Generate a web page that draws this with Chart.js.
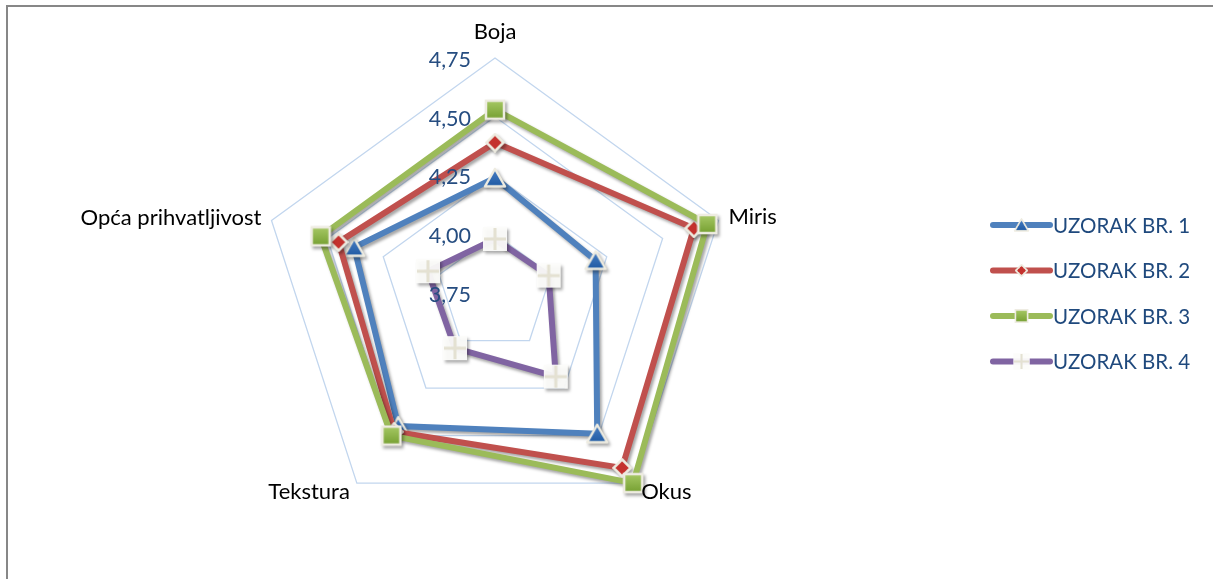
<!DOCTYPE html>
<html><head><meta charset="utf-8">
<script src="https://cdn.jsdelivr.net/npm/chart.js@4/dist/chart.umd.min.js"></script>
<style>
html,body{margin:0;padding:0;background:#fff;overflow:hidden;width:1213px;height:579px;}
#frame{position:absolute;left:6px;top:5px;width:1300px;height:700px;border-left:2px solid #878787;border-top:2px solid #878787;}
#c{position:absolute;left:0;top:0;}
</style></head><body>
<div id="frame"></div>
<canvas id="c" width="1213" height="579"></canvas>
<script>
// ---- data ----
const categories = ['Boja', 'Miris', 'Okus', 'Tekstura', 'Opća prihvatljivost'];
const seriesNames = ['UZORAK BR. 1', 'UZORAK BR. 2', 'UZORAK BR. 3', 'UZORAK BR. 4'];
const uzorak1 = [4.24, 4.20, 4.49, 4.45, 4.38];
const uzorak2 = [4.39, 4.64, 4.67, 4.48, 4.45];
const uzorak3 = [4.53, 4.70, 4.75, 4.50, 4.53];
const uzorak4 = [3.98, 3.99, 4.19, 4.04, 4.05];
const tickValues = [3.75, 4.00, 4.25, 4.50, 4.75];
const tickLabels = ['3,75', '4,00', '4,25', '4,50', '4,75'];

// ---- styles ----
const lineColors = ['#4F81BD', '#C0504D', '#9BBB59', '#8064A2'];
const FONT = 'Lato, "Liberation Sans", Arial, sans-serif';
const CREAM = '#EEECE1';

function mk(w, h, fn) {
  const cv = document.createElement('canvas');
  cv.width = w; cv.height = h;
  fn(cv.getContext('2d'), w, h);
  return cv;
}
const triMarker = mk(24, 22, (c) => {
  const g = c.createLinearGradient(0, 2, 0, 20);
  g.addColorStop(0, '#4A7FC4'); g.addColorStop(1, '#1F5AA3');
  c.beginPath(); c.moveTo(12, 2); c.lineTo(22, 19.5); c.lineTo(2, 19.5); c.closePath();
  c.fillStyle = g; c.fill();
  c.lineWidth = 2.5; c.lineJoin = 'round'; c.strokeStyle = CREAM; c.stroke();
});
const diaMarker = mk(20, 20, (c) => {
  c.beginPath(); c.moveTo(10, 1.5); c.lineTo(18.5, 10); c.lineTo(10, 18.5); c.lineTo(1.5, 10); c.closePath();
  c.fillStyle = '#C4312D'; c.fill();
  c.lineWidth = 2.5; c.strokeStyle = CREAM; c.stroke();
});
const sqMarker = mk(22, 22, (c) => {
  const g = c.createLinearGradient(0, 2, 0, 20);
  g.addColorStop(0, '#A6C864'); g.addColorStop(1, '#76A032');
  c.fillStyle = g; c.fillRect(2, 2, 18, 18);
  c.lineWidth = 2.5; c.strokeStyle = CREAM; c.strokeRect(2, 2, 18, 18);
});
const crossMarker = mk(26, 26, (c) => {
  c.fillStyle = 'rgba(252,252,250,0.95)'; c.fillRect(1, 1, 24, 24);
  c.strokeStyle = '#E4E1D2'; c.lineWidth = 3;
  c.beginPath(); c.moveTo(13, 2); c.lineTo(13, 24); c.moveTo(2, 13); c.lineTo(24, 13); c.stroke();
});
const markers = [triMarker, diaMarker, sqMarker, crossMarker];

const seriesData = [uzorak1, uzorak2, uzorak3, uzorak4];

const shadowPlugin = {
  id: 'shadow',
  beforeDatasetsDraw(chart) {
    const c = chart.ctx; c.save();
    c.shadowColor = 'rgba(0,0,0,0.35)'; c.shadowBlur = 3; c.shadowOffsetX = 2; c.shadowOffsetY = 2.5;
  },
  afterDatasetsDraw(chart) { chart.ctx.restore(); }
};

const labelOffsets = [
  {dx: 0, dy: -26, align: 'center'},
  {dx: 10, dy: -3, align: 'left'},
  {dx: 8, dy: 9, align: 'left'},
  {dx: -7, dy: 9, align: 'right'},
  {dx: -10, dy: -2, align: 'right'}
];

const labelsPlugin = {
  id: 'customLabels',
  afterDraw(chart) {
    const s = chart.scales.r; const c = chart.ctx;
    c.save();
    c.textBaseline = 'middle';
    // point labels
    c.font = '22px ' + FONT;
    c.fillStyle = '#000000';
    categories.forEach((lab, i) => {
      const p = s.getPointPosition(i, s.drawingArea);
      const o = labelOffsets[i];
      c.textAlign = o.align;
      c.fillText(lab, p.x + o.dx, p.y + o.dy);
    });
    // tick labels
    c.font = '21.5px ' + FONT;
    c.fillStyle = '#264D80'; c.textAlign = 'right';
    tickValues.forEach((v, i) => {
      const d = s.getDistanceFromCenterForValue(v);
      c.fillText(tickLabels[i], s.xCenter - 24, s.yCenter - d + 2);
    });
    // legend
    c.font = '20.5px ' + FONT;
    const lx0 = 993, lx1 = 1050, ly0 = 225, lstep = 45.5;
    seriesNames.forEach((name, i) => {
      const y = ly0 + i * lstep;
      c.strokeStyle = lineColors[i]; c.lineWidth = 6; c.lineCap = 'round';
      c.beginPath(); c.moveTo(lx0, y); c.lineTo(lx1, y); c.stroke();
      const m = markers[i]; const sc = 0.68;
      const w = m.width * sc, h = m.height * sc;
      c.drawImage(m, (lx0 + lx1) / 2 - w / 2, y - h / 2, w, h);
      c.fillStyle = '#1F497D'; c.textAlign = 'left';
      c.fillText(name, 1053, y + 1);
    });
    c.restore();
  }
};

function build() {
  new Chart(document.getElementById('c'), {
    type: 'radar',
    data: {
      labels: categories,
      datasets: seriesNames.map((n, i) => ({
        label: n,
        data: seriesData[i],
        borderColor: lineColors[i],
        backgroundColor: 'rgba(0,0,0,0)',
        fill: false,
        borderWidth: 6,
        pointStyle: markers[i],
        pointRadius: 11,
        pointHoverRadius: 11,
        order: 4 - i
      }))
    },
    options: {
      responsive: false,
      animation: false,
      devicePixelRatio: 1,
      layout: {padding: {left: 260, top: 58, right: 483, bottom: 51}},
      plugins: {legend: {display: false}, tooltip: {enabled: false}, title: {display: false}},
      elements: {line: {tension: 0}},
      scales: {
        r: {
          min: 3.75, max: 4.75,
          ticks: {stepSize: 0.25, display: false},
          pointLabels: {display: false},
          angleLines: {display: false},
          grid: {color: '#C2D6EE', lineWidth: 1.3}
        }
      }
    },
    plugins: [shadowPlugin, labelsPlugin]
  });
}
if (document.fonts && document.fonts.load) {
  Promise.all([document.fonts.load('22px Lato'), document.fonts.load('20px Lato')]).then(build, build);
} else { build(); }
</script>
</body></html>
